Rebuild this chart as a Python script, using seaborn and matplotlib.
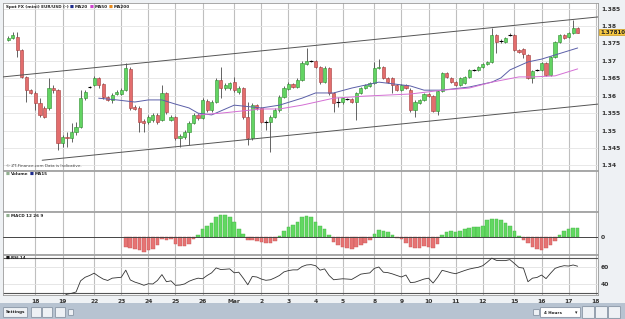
import numpy as np
import pandas as pd
import matplotlib
matplotlib.use("Agg")
import matplotlib.pyplot as plt
from matplotlib.patches import Rectangle, FancyBboxPatch
import seaborn as sns

# EUR/USD 4-hour candles, 17 Feb - 17 Mar
opens = [1.3760, 1.3766, 1.3768, 1.3731, 1.3654, 1.3616, 1.3608, 1.3579, 1.3565, 1.3565,
         1.3622, 1.3616, 1.3464, 1.3481, 1.3479, 1.3496, 1.3510, 1.3593, 1.3625, 1.3631,
         1.3651, 1.3634, 1.3596, 1.3588, 1.3605, 1.3605, 1.3616, 1.3677, 1.3568, 1.3565,
         1.3527, 1.3524, 1.3530, 1.3545, 1.3530, 1.3608, 1.3530, 1.3539, 1.3479, 1.3481,
         1.3496, 1.3522, 1.3545, 1.3536, 1.3585, 1.3559, 1.3582, 1.3645, 1.3622, 1.3622,
         1.3639, 1.3611, 1.3622, 1.3539, 1.3479, 1.3573, 1.3565, 1.3524, 1.3524, 1.3539,
         1.3559, 1.3596, 1.3619, 1.3634, 1.3625, 1.3645, 1.3691, 1.3700, 1.3700, 1.3682,
         1.3639, 1.3679, 1.3608, 1.3582, 1.3582, 1.3591, 1.3591, 1.3582, 1.3608, 1.3622,
         1.3628, 1.3636, 1.3679, 1.3682, 1.3651, 1.3651, 1.3631, 1.3616, 1.3631, 1.3616,
         1.3559, 1.3579, 1.3588, 1.3605, 1.3599, 1.3556, 1.3613, 1.3665, 1.3651, 1.3639,
         1.3631, 1.3636, 1.3654, 1.3674, 1.3674, 1.3682, 1.3691, 1.3697, 1.3774, 1.3757,
         1.3754, 1.3774, 1.3774, 1.3731, 1.3734, 1.3717, 1.3651, 1.3674, 1.3674, 1.3694,
         1.3659, 1.3711, 1.3754, 1.3774, 1.3768, 1.3780, 1.3794]
highs = [1.3771, 1.3783, 1.3783, 1.3734, 1.3657, 1.3619, 1.3613, 1.3593, 1.3570, 1.3651,
         1.3631, 1.3619, 1.3487, 1.3496, 1.3522, 1.3524, 1.3616, 1.3616, 1.3628, 1.3657,
         1.3654, 1.3636, 1.3599, 1.3608, 1.3616, 1.3622, 1.3694, 1.3682, 1.3573, 1.3570,
         1.3533, 1.3545, 1.3550, 1.3550, 1.3631, 1.3611, 1.3545, 1.3542, 1.3490, 1.3501,
         1.3527, 1.3550, 1.3550, 1.3593, 1.3591, 1.3588, 1.3651, 1.3682, 1.3636, 1.3639,
         1.3654, 1.3628, 1.3625, 1.3582, 1.3579, 1.3576, 1.3568, 1.3530, 1.3545, 1.3565,
         1.3602, 1.3628, 1.3639, 1.3636, 1.3651, 1.3700, 1.3737, 1.3702, 1.3702, 1.3685,
         1.3685, 1.3682, 1.3611, 1.3596, 1.3596, 1.3593, 1.3593, 1.3611, 1.3625, 1.3634,
         1.3639, 1.3697, 1.3705, 1.3685, 1.3654, 1.3654, 1.3634, 1.3634, 1.3634, 1.3622,
         1.3588, 1.3591, 1.3608, 1.3608, 1.3602, 1.3616, 1.3668, 1.3668, 1.3654, 1.3642,
         1.3654, 1.3657, 1.3677, 1.3677, 1.3685, 1.3694, 1.3700, 1.3794, 1.3777, 1.3763,
         1.3768, 1.3780, 1.3777, 1.3734, 1.3737, 1.3720, 1.3674, 1.3677, 1.3697, 1.3697,
         1.3714, 1.3757, 1.3777, 1.3777, 1.3783, 1.3817, 1.3797]
lows = [1.3757, 1.3763, 1.3711, 1.3651, 1.3582, 1.3605, 1.3559, 1.3539, 1.3536, 1.3559,
        1.3608, 1.3444, 1.3453, 1.3453, 1.3467, 1.3487, 1.3507, 1.3588, 1.3622, 1.3628,
        1.3622, 1.3591, 1.3585, 1.3579, 1.3602, 1.3602, 1.3613, 1.3559, 1.3559, 1.3496,
        1.3496, 1.3519, 1.3524, 1.3519, 1.3527, 1.3547, 1.3527, 1.3473, 1.3453, 1.3476,
        1.3458, 1.3519, 1.3530, 1.3533, 1.3553, 1.3553, 1.3579, 1.3593, 1.3616, 1.3616,
        1.3611, 1.3605, 1.3533, 1.3458, 1.3473, 1.3559, 1.3522, 1.3501, 1.3438, 1.3536,
        1.3553, 1.3593, 1.3616, 1.3622, 1.3622, 1.3642, 1.3688, 1.3697, 1.3679, 1.3634,
        1.3636, 1.3602, 1.3553, 1.3568, 1.3576, 1.3588, 1.3579, 1.3530, 1.3605, 1.3619,
        1.3625, 1.3634, 1.3677, 1.3648, 1.3636, 1.3608, 1.3613, 1.3613, 1.3619, 1.3553,
        1.3539, 1.3576, 1.3585, 1.3596, 1.3553, 1.3545, 1.3611, 1.3651, 1.3636, 1.3628,
        1.3628, 1.3634, 1.3651, 1.3671, 1.3671, 1.3679, 1.3688, 1.3694, 1.3722, 1.3751,
        1.3751, 1.3771, 1.3728, 1.3722, 1.3708, 1.3648, 1.3636, 1.3671, 1.3671, 1.3657,
        1.3657, 1.3708, 1.3751, 1.3763, 1.3766, 1.3777, 1.3780]
closes = [1.3766, 1.3774, 1.3731, 1.3654, 1.3616, 1.3608, 1.3579, 1.3545, 1.3539, 1.3622,
          1.3616, 1.3464, 1.3481, 1.3479, 1.3496, 1.3510, 1.3593, 1.3611, 1.3625, 1.3651,
          1.3631, 1.3596, 1.3588, 1.3602, 1.3611, 1.3616, 1.3679, 1.3565, 1.3562, 1.3524,
          1.3522, 1.3539, 1.3545, 1.3524, 1.3608, 1.3553, 1.3539, 1.3479, 1.3484, 1.3496,
          1.3522, 1.3545, 1.3536, 1.3588, 1.3559, 1.3582, 1.3645, 1.3622, 1.3631, 1.3636,
          1.3616, 1.3622, 1.3539, 1.3479, 1.3573, 1.3565, 1.3524, 1.3524, 1.3539, 1.3559,
          1.3596, 1.3622, 1.3634, 1.3625, 1.3645, 1.3694, 1.3700, 1.3700, 1.3682, 1.3639,
          1.3679, 1.3608, 1.3579, 1.3582, 1.3593, 1.3591, 1.3582, 1.3608, 1.3622, 1.3631,
          1.3636, 1.3679, 1.3682, 1.3651, 1.3639, 1.3631, 1.3616, 1.3631, 1.3622, 1.3559,
          1.3582, 1.3588, 1.3605, 1.3599, 1.3556, 1.3613, 1.3665, 1.3654, 1.3639, 1.3631,
          1.3651, 1.3654, 1.3674, 1.3674, 1.3682, 1.3691, 1.3697, 1.3774, 1.3754, 1.3757,
          1.3766, 1.3774, 1.3731, 1.3725, 1.3720, 1.3651, 1.3671, 1.3674, 1.3694, 1.3659,
          1.3711, 1.3754, 1.3774, 1.3766, 1.3780, 1.3794, 1.3781]
last_price = "1.37810"

# moving averages (candle index, price)
ma20_idx = [20, 24, 28, 31, 34, 37, 40, 42, 45, 50, 56, 60, 65, 68, 72, 76, 82, 89,
            92, 96, 102, 107, 109, 111, 115, 118, 121, 126]
ma20_val = [1.3593, 1.3588, 1.3582, 1.3588, 1.3588, 1.3576, 1.3565, 1.3550, 1.3545,
            1.3573, 1.3565, 1.3573, 1.3593, 1.3608, 1.3608, 1.3622, 1.3639, 1.3628,
            1.3616, 1.3616, 1.3625, 1.3639, 1.3651, 1.3674, 1.3697, 1.3705, 1.3717, 1.3737]
ma50_idx = [42, 47, 56, 60, 65, 72, 79, 89, 96, 102, 107, 113, 116, 121, 126]
ma50_val = [1.3545, 1.3550, 1.3562, 1.3562, 1.3573, 1.3593, 1.3599, 1.3605, 1.3616,
            1.3622, 1.3639, 1.3654, 1.3654, 1.3657, 1.3677]

# trend channel drawn on the chart (start/end index, start/end price)
upper_line = ([-1.2, 130.5], [1.3654, 1.3826])
lower_line = ([7.5, 130.5], [1.3415, 1.3576])

# MACD histogram (x1e-4), first bar at candle 26
macd_start = 26
macd_hist = [-10, -11, -12, -13, -15, -13, -12, -8, -2, -3,
             -2, -7, -9, -9, -7, -2, 2, 8, 11, 14,
             20, 22, 22, 20, 15, 8, 3, -3, -3, -4,
             -5, -6, -6, -4, 1, 6, 10, 12, 15, 20,
             21, 20, 15, 11, 8, 2, -5, -8, -10, -11,
             -12, -10, -8, -6, -3, 3, 7, 6, 5, 2,
             -1, -2, -6, -10, -11, -11, -9, -10, -11, -7,
             2, 5, 6, 5, 6, 8, 9, 10, 10, 11,
             17, 18, 18, 17, 14, 11, 6, 1, -3, -6,
             -10, -12, -13, -11, -8, -4, 2, 6, 8, 9, 9]

# RSI 14, first value at candle 11
rsi_start = 11
rsi = [22, 26, 29, 30, 31.5, 44, 48, 50, 52.6, 49, 46, 44.4, 47, 47.5, 48, 56, 45, 42.6,
       41, 39, 40.7, 40.5, 44.4, 51, 43, 44, 39, 39.3, 40.5, 43.5, 45.5, 47, 46.3, 50,
       53, 58.5, 56.7, 57, 57.4, 53, 53.7, 47, 39.6, 48.9, 48.3, 46, 44.6, 45.2, 47.4,
       50, 54, 55.5, 56.3, 56.3, 60, 61.8, 62.2, 61, 56, 57.4, 50, 45.2, 45.8, 46.3, 46,
       45.6, 48.5, 51.5, 52.3, 52.9, 58, 59.5, 53.7, 53.2, 51.8, 50, 48.3, 50.5, 42,
       42.5, 44.2, 46, 47, 41.5, 48, 55.8, 54.5, 53, 52, 53.8, 55.6, 57.2, 58.3, 59.2,
       61, 65, 69.5, 67, 66.7, 66.7, 67.8, 63.5, 59, 58.3, 43, 47, 47.8, 50.5, 46.5,
       52.5, 58, 59.8, 61, 60.6, 61.8, 60.4]

# day boundaries (candle index) and labels
day_idx = [6, 12, 19, 25, 31, 37, 43, 50, 56, 62, 68, 74, 81, 87, 93, 99, 105, 112, 118, 124, 130]
day_lbl = ['18', '19', '22', '23', '24', '25', '26', 'Mar', '2', '3', '4', '5',
           '8', '9', '10', '11', '12', '15', '16', '17', '18']

price_ticks = [1.34, 1.345, 1.35, 1.355, 1.36, 1.365, 1.37, 1.375, 1.38, 1.385]

sns.set_style("white")
plt.rcParams['font.family'] = ['DejaVu Sans']

W, H = 625, 319
def box(x0, y0, x1, y1):
    return [x0 / W, 1 - y1 / H, (x1 - x0) / W, (y1 - y0) / H]
def fx(x):
    return x / W
def fy(y):
    return 1 - y / H

fig = plt.figure(figsize=(6.25, 3.19), dpi=100)
fig.patch.set_facecolor('#eef1f4')

ax_p = fig.add_axes(box(3, 3, 598, 170))
ax_v = fig.add_axes(box(3, 171, 598, 211), sharex=ax_p)
ax_m = fig.add_axes(box(3, 212, 598, 254), sharex=ax_p)
ax_r = fig.add_axes(box(3, 255, 598, 295), sharex=ax_p)

grid_v = '#bfbfbf'
for ax in (ax_p, ax_v, ax_m, ax_r):
    ax.set_facecolor('white')
    for s in ax.spines.values():
        s.set_color('#9a9a9a')
        s.set_linewidth(0.6)
    for d in day_idx:
        ax.axvline(d, color=grid_v, lw=0.8, zorder=0)
    ax.tick_params(length=0, labelsize=4.3, pad=2, colors='#333333')
    ax.yaxis.tick_right()

# ---- price panel ----
df = pd.DataFrame({'open': opens, 'high': highs, 'low': lows, 'close': closes})
df['idx'] = np.arange(len(df))
up = df[df['close'] > df['open']]
dn = df[df['close'] < df['open']]
flat = df[df['close'] == df['open']]

for p in price_ticks:
    ax_p.axhline(p, color='#e4e4e4', lw=0.6, zorder=0)

ax_p.vlines(df['idx'], df['low'], df['high'], color='#4a4a4a', lw=0.6, zorder=2)
ax_p.bar(up['idx'], up['close'] - up['open'], bottom=up['open'], width=0.7,
         color='#63d463', edgecolor='#2f8f2f', linewidth=0.4, zorder=3)
ax_p.bar(dn['idx'], dn['open'] - dn['close'], bottom=dn['close'], width=0.7,
         color='#e36d6d', edgecolor='#a63c3c', linewidth=0.4, zorder=3)
ax_p.hlines(flat['open'], flat['idx'] - 0.4, flat['idx'] + 0.4, color='black', lw=0.8, zorder=3)

ma20 = pd.DataFrame({'idx': ma20_idx, 'val': ma20_val})
ma50 = pd.DataFrame({'idx': ma50_idx, 'val': ma50_val})
sns.lineplot(data=ma20, x='idx', y='val', ax=ax_p, color='#5b5fa8', lw=0.7, zorder=4)
sns.lineplot(data=ma50, x='idx', y='val', ax=ax_p, color='#d46fd4', lw=0.7, zorder=4)
ax_p.plot(upper_line[0], upper_line[1], color='#555555', lw=0.7, zorder=4)
ax_p.plot(lower_line[0], lower_line[1], color='#555555', lw=0.7, zorder=4)

ax_p.set_ylim(1.3387, 1.3866)
ax_p.set_yticks(price_ticks)
ax_p.set_yticklabels([f"{p:g}" for p in price_ticks], fontweight='bold')
ax_p.set_xlim(-1.17, 130.5)
ax_p.set_xlabel('')
ax_p.set_ylabel('')

# ---- volume panel (empty) ----
ax_v.set_yticks([])

# ---- MACD panel ----
macd = pd.DataFrame({'idx': np.arange(macd_start, macd_start + len(macd_hist)), 'h': macd_hist})
pos = macd[macd['h'] >= 0]
neg = macd[macd['h'] < 0]
ax_m.bar(pos['idx'], pos['h'], width=0.8, color='#62d862', edgecolor='#45b545', linewidth=0.3, zorder=2)
ax_m.bar(neg['idx'], neg['h'], width=0.8, color='#e67474', edgecolor='#c75353', linewidth=0.3, zorder=2)
ax_m.axhline(0, color='#444444', lw=0.7, zorder=3)
ax_m.set_ylim(-17, 25)
ax_m.set_yticks([0])
ax_m.set_yticklabels(['0'], fontweight='bold')

# ---- RSI panel ----
rsi_df = pd.DataFrame({'idx': np.arange(rsi_start, rsi_start + len(rsi)), 'rsi': rsi})
for lv in (60, 40):
    ax_r.axhline(lv, color='#e2e2e2', lw=0.6, zorder=0)
for lv in (70, 30):
    ax_r.axhline(lv, color='#555555', lw=0.8, zorder=1)
sns.lineplot(data=rsi_df, x='idx', y='rsi', ax=ax_r, color='#333333', lw=0.6, zorder=3)
ax_r.set_ylim(28.1, 73)
ax_r.set_yticks([60, 40])
ax_r.set_yticklabels(['60', '40'], fontweight='bold')
ax_r.set_xlabel('')
ax_r.set_ylabel('')

ax_r.set_xticks(day_idx)
ax_r.set_xticklabels(day_lbl, fontweight='bold')
for ax in (ax_p, ax_v, ax_m):
    ax.tick_params(labelbottom=False)
ax_r.tick_params(axis='x', pad=3)

# ---- panel captions (each piece placed after the previous one) ----
fig.canvas.draw()
renderer = fig.canvas.get_renderer()

def caption(x, y, parts, size=3.0):
    cur = fx(x)
    for txt, col in parts:
        t = fig.text(cur, fy(y), txt, fontsize=size, color=col, fontweight='bold', va='center')
        bb = t.get_window_extent(renderer=renderer)
        cur += bb.width / fig.bbox.width + fx(1.2)

caption(6, 7, [('Spot FX (mini) EUR/USD (-)', '#222222'),
               ('■', '#1c2a8c'), ('MA20', '#222222'),
               ('■', '#d040d0'), ('MA50', '#222222'),
               ('■', '#e88a1a'), ('MA200', '#222222')])
caption(6, 174, [('■', '#8fae8f'), ('Volume', '#222222'),
                 ('■', '#1c2a8c'), ('MA15', '#222222')])
caption(6, 216, [('■', '#8fae8f'), ('MACD 12 26 9', '#222222')])
caption(6, 258, [('■', '#111111'), ('RSI 14', '#222222')])
fig.text(fx(6), fy(166), '© ZT-Finance.com Data is Indicative.', fontsize=3.0, color='#444444', va='center')

# last price tag
fig.text(fx(600), fy(32), last_price, fontsize=4, color='#222222', fontweight='bold', va='center',
         bbox=dict(boxstyle='square,pad=0.15', fc='#f5c842', ec='#c8951b', lw=0.5))

# ---- bottom toolbar ----
fig.patches.append(Rectangle((0, 0), 1, fy(303), transform=fig.transFigure,
                             facecolor='#b7c3d1', edgecolor='none', zorder=0))
def button(x0, y0, x1, y1, fc='#eef1f5'):
    fig.patches.append(FancyBboxPatch((fx(x0), fy(y1)), fx(x1 - x0), (y1 - y0) / H,
                                      boxstyle='round,pad=0.001', transform=fig.transFigure,
                                      facecolor=fc, edgecolor='#7b8899', lw=0.5, zorder=1))
button(4, 308, 27, 317)
fig.text(fx(15.5), fy(312.5), 'Settings', fontsize=3.0, ha='center', va='center', fontweight='bold', color='#222222')
for x0 in (32, 43, 56):
    button(x0, 308, x0 + 9, 317)
button(69, 310, 73, 315)
button(534, 310, 539, 315)
button(541, 308, 580, 317, fc='white')
fig.text(fx(544), fy(312.5), '4 Hours', fontsize=3.0, va='center', fontweight='bold', color='#222222')
fig.text(fx(576), fy(312.5), '▾', fontsize=3.5, va='center', ha='center', color='#222222')
for x0 in (583, 596, 609):
    button(x0, 307, x0 + 11, 318)

fig.savefig('out.png', dpi=100, facecolor=fig.get_facecolor())
